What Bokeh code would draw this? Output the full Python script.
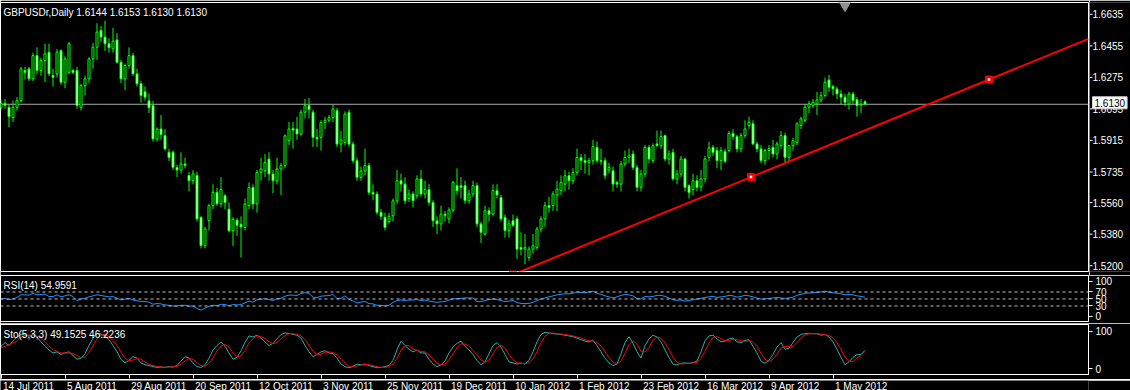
import numpy as np
from bokeh.plotting import figure
from bokeh.layouts import column, row
from bokeh.models import (Range1d, FixedTicker, Label, Span, ColumnDataSource)
from bokeh.core.properties import value
from bokeh.embed import file_html
from bokeh.resources import INLINE

# ---------------- data ----------------
HEADER = "GBPUSDr,Daily  1.6144 1.6153 1.6130 1.6130"
RSI_TITLE = "RSI(14) 54.9591"
STO_TITLE = "Sto(5,3,3) 49.1525 46.2236"

OPEN = [
    1.6110, 1.6135, 1.6113, 1.6055, 1.6113, 1.6150, 1.6320, 1.6329, 1.6273, 1.6404,
    1.6320, 1.6376, 1.6423, 1.6292, 1.6301, 1.6432, 1.6254, 1.6310, 1.6320, 1.6320,
    1.6113, 1.6235, 1.6273, 1.6385, 1.6451, 1.6545, 1.6508, 1.6470, 1.6442, 1.6492,
    1.6367, 1.6273, 1.6348, 1.6404, 1.6301, 1.6245, 1.6200, 1.6150, 1.6122, 1.5935,
    1.5991, 1.5954, 1.5860, 1.5860, 1.5775, 1.5760, 1.5794, 1.5730, 1.5700, 1.5730,
    1.5494, 1.5335, 1.5475, 1.5560, 1.5635, 1.5570, 1.5615, 1.5540, 1.5418, 1.5478,
    1.5455, 1.5437, 1.5560, 1.5662, 1.5569, 1.5747, 1.5756, 1.5822, 1.5738, 1.5700,
    1.5766, 1.5785, 1.5925, 1.5994, 1.5991, 1.5963, 1.6085, 1.6122, 1.6085, 1.5944,
    1.5944, 1.6028, 1.6040, 1.6055, 1.6094, 1.5906, 1.5916, 1.6085, 1.5906, 1.5812,
    1.5719, 1.5755, 1.5785, 1.5634, 1.5625, 1.5522, 1.5494, 1.5470, 1.5503, 1.5587,
    1.5700, 1.5681, 1.5600, 1.5625, 1.5615, 1.5710, 1.5625, 1.5650, 1.5578, 1.5475,
    1.5457, 1.5512, 1.5485, 1.5535, 1.5672, 1.5672, 1.5672, 1.5588, 1.5625, 1.5672,
    1.5457, 1.5400, 1.5531, 1.5512, 1.5644, 1.5606, 1.5494, 1.5419, 1.5475, 1.5485,
    1.5325, 1.5315, 1.5268, 1.5315, 1.5325, 1.5428, 1.5485, 1.5560, 1.5560, 1.5620,
    1.5644, 1.5681, 1.5728, 1.5700, 1.5747, 1.5831, 1.5813, 1.5803, 1.5813, 1.5888,
    1.5813, 1.5813, 1.5760, 1.5756, 1.5690, 1.5681, 1.5794, 1.5831, 1.5850, 1.5775,
    1.5663, 1.5738, 1.5888, 1.5813, 1.5907, 1.5897, 1.5954, 1.5822, 1.5860, 1.5710,
    1.5738, 1.5822, 1.5672, 1.5650, 1.5700, 1.5666, 1.5710, 1.5832, 1.5888, 1.5870,
    1.5813, 1.5865, 1.5870, 1.5966, 1.5948, 1.5879, 1.5954, 1.6010, 1.6020, 1.5907,
    1.5879, 1.5813, 1.5870, 1.5888, 1.5850, 1.5897, 1.5954, 1.5832, 1.5897, 1.5916,
    1.6010, 1.6040, 1.6113, 1.6122, 1.6132, 1.6154, 1.6179, 1.6267, 1.6230, 1.6216,
    1.6188, 1.6170, 1.6132, 1.6188, 1.6155, 1.6125, 1.6144,
]
HIGH = [
    1.6155, 1.6160, 1.6130, 1.6150, 1.6170, 1.6340, 1.6340, 1.6340, 1.6420, 1.6450,
    1.6390, 1.6470, 1.6470, 1.6330, 1.6440, 1.6440, 1.6400, 1.6480, 1.6330, 1.6340,
    1.6245, 1.6290, 1.6395, 1.6475, 1.6586, 1.6570, 1.6600, 1.6500, 1.6560, 1.6530,
    1.6380, 1.6360, 1.6450, 1.6420, 1.6330, 1.6260, 1.6230, 1.6190, 1.6150, 1.6000,
    1.6070, 1.5990, 1.5880, 1.5870, 1.5790, 1.5860, 1.5830, 1.5750, 1.5760, 1.5750,
    1.5500, 1.5440, 1.5570, 1.5680, 1.5660, 1.5720, 1.5625, 1.5578, 1.5494, 1.5490,
    1.5500, 1.5600, 1.5690, 1.5680, 1.5760, 1.5830, 1.5850, 1.5860, 1.5760, 1.5830,
    1.5800, 1.5960, 1.6030, 1.6030, 1.6060, 1.6100, 1.6160, 1.6165, 1.6100, 1.5990,
    1.6040, 1.6060, 1.6070, 1.6130, 1.6110, 1.5980, 1.6090, 1.6100, 1.5920, 1.5830,
    1.5780, 1.5880, 1.5800, 1.5680, 1.5640, 1.5540, 1.5520, 1.5520, 1.5600, 1.5760,
    1.5740, 1.5720, 1.5650, 1.5640, 1.5730, 1.5760, 1.5700, 1.5680, 1.5590, 1.5500,
    1.5560, 1.5530, 1.5550, 1.5700, 1.5770, 1.5720, 1.5700, 1.5650, 1.5700, 1.5690,
    1.5470, 1.5560, 1.5550, 1.5680, 1.5680, 1.5620, 1.5510, 1.5480, 1.5510, 1.5500,
    1.5410, 1.5400, 1.5330, 1.5400, 1.5440, 1.5500, 1.5580, 1.5610, 1.5640, 1.5700,
    1.5730, 1.5760, 1.5750, 1.5770, 1.5880, 1.5850, 1.5850, 1.5830, 1.5930, 1.5920,
    1.5880, 1.5830, 1.5800, 1.5780, 1.5700, 1.5810, 1.5870, 1.5880, 1.5870, 1.5790,
    1.5760, 1.5900, 1.5900, 1.5910, 1.5982, 1.5982, 1.5960, 1.5870, 1.5880, 1.5760,
    1.5840, 1.5830, 1.5680, 1.5740, 1.5730, 1.5760, 1.5840, 1.5920, 1.5900, 1.5890,
    1.5890, 1.5880, 1.5980, 1.5990, 1.5960, 1.5970, 1.6040, 1.6060, 1.6040, 1.5920,
    1.5900, 1.5880, 1.5900, 1.5930, 1.5920, 1.5980, 1.5970, 1.5900, 1.5940, 1.6030,
    1.6060, 1.6130, 1.6150, 1.6160, 1.6200, 1.6200, 1.6280, 1.6295, 1.6240, 1.6230,
    1.6210, 1.6190, 1.6200, 1.6200, 1.6170, 1.6160, 1.6153,
]
LOW = [
    1.6100, 1.6105, 1.6000, 1.6030, 1.6095, 1.6140, 1.6270, 1.6260, 1.6260, 1.6300,
    1.6290, 1.6255, 1.6290, 1.6230, 1.6280, 1.6240, 1.6220, 1.6300, 1.6300, 1.6105,
    1.6095, 1.6180, 1.6250, 1.6330, 1.6380, 1.6480, 1.6430, 1.6420, 1.6420, 1.6360,
    1.6250, 1.6210, 1.6330, 1.6290, 1.6230, 1.6140, 1.6150, 1.6080, 1.5920, 1.5920,
    1.5930, 1.5870, 1.5810, 1.5760, 1.5720, 1.5740, 1.5770, 1.5640, 1.5680, 1.5470,
    1.5320, 1.5320, 1.5420, 1.5540, 1.5560, 1.5550, 1.5540, 1.5410, 1.5334, 1.5390,
    1.5268, 1.5420, 1.5540, 1.5540, 1.5520, 1.5700, 1.5720, 1.5700, 1.5630, 1.5680,
    1.5620, 1.5770, 1.5900, 1.5880, 1.5930, 1.5950, 1.6050, 1.6050, 1.5890, 1.5890,
    1.5870, 1.5990, 1.6030, 1.6030, 1.5890, 1.5860, 1.5900, 1.5890, 1.5800, 1.5700,
    1.5700, 1.5730, 1.5620, 1.5590, 1.5510, 1.5480, 1.5420, 1.5460, 1.5470, 1.5570,
    1.5640, 1.5570, 1.5580, 1.5550, 1.5600, 1.5610, 1.5600, 1.5560, 1.5440, 1.5400,
    1.5420, 1.5470, 1.5460, 1.5520, 1.5620, 1.5600, 1.5570, 1.5570, 1.5610, 1.5440,
    1.5350, 1.5390, 1.5470, 1.5500, 1.5600, 1.5470, 1.5380, 1.5380, 1.5440, 1.5260,
    1.5280, 1.5230, 1.5250, 1.5290, 1.5310, 1.5410, 1.5440, 1.5520, 1.5530, 1.5530,
    1.5620, 1.5640, 1.5650, 1.5680, 1.5730, 1.5760, 1.5740, 1.5730, 1.5790, 1.5800,
    1.5790, 1.5710, 1.5740, 1.5640, 1.5660, 1.5640, 1.5780, 1.5800, 1.5760, 1.5640,
    1.5640, 1.5720, 1.5800, 1.5800, 1.5890, 1.5880, 1.5810, 1.5790, 1.5700, 1.5680,
    1.5720, 1.5640, 1.5600, 1.5620, 1.5640, 1.5640, 1.5690, 1.5810, 1.5840, 1.5770,
    1.5760, 1.5800, 1.5860, 1.5930, 1.5860, 1.5860, 1.5940, 1.5990, 1.5900, 1.5860,
    1.5800, 1.5790, 1.5820, 1.5830, 1.5820, 1.5880, 1.5800, 1.5810, 1.5870, 1.5900,
    1.5990, 1.6030, 1.6080, 1.6110, 1.6070, 1.6140, 1.6170, 1.6200, 1.6180, 1.6160,
    1.6130, 1.6120, 1.6100, 1.6130, 1.6060, 1.6080, 1.6130,
]
CLOSE = [
    1.6135, 1.6125, 1.6060, 1.6113, 1.6150, 1.6329, 1.6310, 1.6273, 1.6404, 1.6320,
    1.6376, 1.6414, 1.6301, 1.6282, 1.6423, 1.6254, 1.6385, 1.6470, 1.6310, 1.6123,
    1.6235, 1.6273, 1.6385, 1.6451, 1.6536, 1.6508, 1.6470, 1.6448, 1.6485, 1.6367,
    1.6273, 1.6348, 1.6404, 1.6301, 1.6245, 1.6179, 1.6170, 1.6110, 1.5935, 1.5991,
    1.5960, 1.5879, 1.5830, 1.5775, 1.5760, 1.5794, 1.5785, 1.5700, 1.5738, 1.5485,
    1.5335, 1.5428, 1.5560, 1.5635, 1.5570, 1.5650, 1.5578, 1.5418, 1.5484, 1.5450,
    1.5440, 1.5569, 1.5662, 1.5569, 1.5747, 1.5766, 1.5803, 1.5738, 1.5700, 1.5766,
    1.5785, 1.5953, 1.5991, 1.5985, 1.5963, 1.6085, 1.6122, 1.6100, 1.5944, 1.5935,
    1.6028, 1.6040, 1.6055, 1.6103, 1.5906, 1.5929, 1.6075, 1.5906, 1.5812, 1.5719,
    1.5755, 1.5785, 1.5634, 1.5625, 1.5522, 1.5500, 1.5437, 1.5500, 1.5587, 1.5700,
    1.5681, 1.5587, 1.5625, 1.5587, 1.5710, 1.5625, 1.5650, 1.5578, 1.5475, 1.5457,
    1.5512, 1.5503, 1.5535, 1.5691, 1.5644, 1.5663, 1.5588, 1.5625, 1.5672, 1.5457,
    1.5410, 1.5531, 1.5512, 1.5644, 1.5620, 1.5485, 1.5419, 1.5457, 1.5450, 1.5315,
    1.5315, 1.5325, 1.5315, 1.5334, 1.5428, 1.5485, 1.5560, 1.5550, 1.5625, 1.5653,
    1.5691, 1.5728, 1.5700, 1.5747, 1.5831, 1.5813, 1.5803, 1.5813, 1.5892, 1.5813,
    1.5810, 1.5728, 1.5775, 1.5681, 1.5681, 1.5794, 1.5831, 1.5840, 1.5775, 1.5663,
    1.5738, 1.5888, 1.5822, 1.5897, 1.5897, 1.5948, 1.5822, 1.5850, 1.5710, 1.5738,
    1.5822, 1.5663, 1.5634, 1.5700, 1.5663, 1.5710, 1.5822, 1.5884, 1.5860, 1.5813,
    1.5870, 1.5810, 1.5966, 1.5948, 1.5879, 1.5954, 1.5991, 1.6029, 1.5907, 1.5879,
    1.5813, 1.5870, 1.5880, 1.5850, 1.5907, 1.5954, 1.5832, 1.5897, 1.5925, 1.6020,
    1.6048, 1.6113, 1.6132, 1.6141, 1.6154, 1.6179, 1.6254, 1.6226, 1.6217, 1.6188,
    1.6170, 1.6141, 1.6188, 1.6151, 1.6122, 1.6130, 1.6130,
]
RSI = [
    50, 51.5, 48, 50, 54, 62, 62, 61, 66, 62,
    63, 64, 57, 57, 62, 56, 59, 62, 57, 45,
    50, 52, 56, 59, 62, 60, 58, 56, 57, 52,
    47, 50, 52, 47, 45, 43, 43, 41, 35, 37,
    36, 33, 32, 30, 30, 32, 32, 29, 30, 23,
    18, 24, 29, 32, 31, 35, 34, 31, 34, 33,
    34, 39, 44, 41, 48, 49, 51, 48, 46, 51,
    52, 58, 61, 61, 60, 66, 68, 66, 55, 54,
    58, 59, 60, 63, 51, 52, 59, 49, 44, 39,
    41, 43, 37, 36, 32, 32, 30, 32, 40, 45.6,
    47, 45.6, 47, 47, 48.5, 45.6, 47, 44, 42, 40.4,
    42, 42.6, 47, 50, 51.5, 51.5, 53, 53, 53, 42.6,
    42.6, 45.6, 48.5, 50, 48.5, 45.6, 42.6, 44, 45.6, 39.6,
    37.4, 36.7, 37.4, 40.4, 45.6, 50, 53, 56, 58.9, 61.8,
    63.3, 64.8, 64.8, 66.3, 70, 68.5, 67.8, 70, 72.2, 66.3,
    63.3, 58.9, 56, 53, 56, 60.4, 62.6, 61.8, 58.9, 51.5,
    50, 57.4, 56, 57.4, 60.4, 60.4, 57.4, 53, 47.8, 46.3,
    47, 44, 45.6, 47.8, 50, 51.5, 54.4, 56, 57.4, 54.4,
    56, 57.4, 60.4, 58.9, 55.2, 57.4, 60.4, 58.9, 56, 53,
    50, 50, 51.5, 53, 54.4, 53, 51.5, 53, 55.2, 60.4,
    63.3, 66.3, 67, 67.8, 68.5, 70, 72.2, 69.2, 67.8, 66.3,
    64.8, 61.8, 63.3, 61.8, 58.9, 57.4, 54.96,
]
STO_MAIN = [
    60, 70, 62, 75, 85, 92, 90, 88, 92, 85,
    72, 60, 50, 42, 45, 38, 42, 45, 35, 25,
    28, 40, 62, 82, 95, 93, 88, 78, 62, 45,
    25, 15, 22, 32, 28, 15, 10, 8, 5, 3,
    4, 3, 5, 4, 8, 20, 32, 28, 15, 5,
    3, 10, 28, 50, 62, 72, 60, 42, 25, 30,
    48, 70, 88, 85, 90, 82, 72, 62, 68, 80,
    92, 96, 95, 92, 90, 82, 62, 45, 32, 38,
    45, 48, 42, 40, 28, 12, 5, 2, 6, 12,
    10, 12, 8, 5, 2, 3, 5, 8, 22, 50,
    74, 62, 52, 45, 50, 42, 42, 25, 12, 5,
    10, 20, 42, 58, 68, 74, 60, 50, 38, 22,
    10, 18, 40, 62, 70, 58, 38, 18, 15, 12,
    15, 12, 22, 45, 72, 92, 98, 96, 94, 93,
    92, 90, 88, 86, 82, 78, 74, 72, 76, 62,
    45, 28, 15, 8, 12, 40, 70, 86, 68, 45,
    28, 62, 80, 90, 85, 72, 50, 30, 12, 10,
    14, 15, 14, 16, 20, 45, 75, 88, 90, 80,
    72, 74, 80, 82, 72, 70, 76, 78, 60, 42,
    20, 14, 22, 38, 58, 70, 52, 55, 70, 85,
    92, 94, 95, 94, 94, 90, 92, 85, 72, 52,
    30, 10, 18, 30, 38, 38, 49.15,
]
STO_SIGNAL = [
    55, 60, 64, 69, 74, 84, 89, 90, 90, 88,
    83, 72, 61, 51, 46, 42, 42, 42, 41, 35,
    29, 31, 43, 61, 80, 90, 92, 86, 76, 62,
    44, 28, 21, 23, 27, 25, 18, 11, 8, 5,
    4, 3, 4, 4, 6, 11, 20, 27, 25, 16,
    8, 6, 14, 29, 47, 61, 65, 58, 42, 32,
    34, 49, 69, 81, 88, 86, 81, 72, 67, 70,
    80, 89, 94, 94, 92, 88, 78, 63, 46, 38,
    38, 44, 45, 43, 37, 27, 15, 6, 4, 7,
    9, 11, 10, 8, 5, 3, 3, 5, 12, 27,
    49, 62, 62, 53, 49, 46, 45, 36, 26, 14,
    9, 12, 24, 40, 56, 67, 66, 61, 49, 37,
    23, 17, 23, 40, 57, 63, 55, 38, 24, 15,
    14, 13, 16, 26, 46, 70, 87, 95, 96, 94,
    93, 92, 90, 88, 85, 82, 78, 75, 74, 70,
    61, 45, 29, 17, 12, 20, 41, 65, 75, 66,
    47, 45, 57, 77, 85, 82, 69, 51, 31, 17,
    12, 13, 14, 15, 16, 27, 47, 69, 84, 86,
    81, 75, 75, 79, 78, 75, 73, 75, 71, 60,
    41, 25, 19, 25, 39, 55, 60, 59, 59, 70,
    82, 90, 94, 94, 94, 93, 92, 89, 83, 70,
    51, 31, 19, 19, 29, 35, 46.22,
]
DATE_TICKS = [0, 16, 32, 48, 64, 80, 96, 112, 128, 144, 160, 176, 192, 208]
DATE_LABELS = ["14 Jul 2011", "5 Aug 2011", "29 Aug 2011", "20 Sep 2011", "12 Oct 2011",
               "3 Nov 2011", "25 Nov 2011", "19 Dec 2011", "10 Jan 2012", "1 Feb 2012",
               "23 Feb 2012", "16 Mar 2012", "9 Apr 2012", "1 May 2012"]
PRICE_TICKS = [1.6635, 1.6455, 1.6275, 1.6095, 1.5915, 1.5735, 1.5560, 1.5380, 1.5200]
RSI_TICKS = [0, 30, 50, 70, 100]
RSI_LEVELS = [30, 50, 70]
STO_TICKS = [0, 100]
TREND_X = [128, 247]            # trend line anchor bars
TREND_Y = [1.5172, 1.6269]      # trend line anchor prices
SHIFT_BAR = 211                 # chart-shift marker

for arr in (OPEN, HIGH, LOW, CLOSE, RSI, STO_MAIN, STO_SIGNAL):
    assert len(arr) == len(CLOSE), len(arr)

# ---------------- styling / layout ----------------
FONT = "Liberation Sans"
FS = "10px"
XR = Range1d(-0.125, 271.875)
MAIN_Y = (1.51894, 1.67025)
RSI_Y = (-14.3, 117.1)
STO_Y = (-16.2, 118.9)


def panel(width, height, yr, top, bottom, ticks, right=42, xaxis=False, outline="white", xr=XR):
    f = figure(width=width, height=height, x_range=xr, y_range=Range1d(*yr),
               output_backend="svg", toolbar_location=None,
               background_fill_color="black", border_fill_color="black",
               outline_line_color=outline, outline_line_width=1,
               min_border_left=0, min_border_right=right,
               min_border_top=top, min_border_bottom=bottom,
               x_axis_location="below" if xaxis else None,
               y_axis_location="right" if ticks else None)
    f.grid.visible = False
    if ticks:
        ax = f.yaxis[0]
        ax.ticker = FixedTicker(ticks=ticks)
        ax.axis_line_color = None
        ax.major_tick_line_color = "white"
        ax.major_tick_out = 4
        ax.major_tick_in = 0
        ax.minor_tick_line_color = None
        ax.major_label_text_color = "white"
        ax.major_label_text_font = FONT
        ax.major_label_text_font_size = FS
        ax.major_label_standoff = 3
    return f


# ---- main price panel ----
n = len(CLOSE)
idx = np.arange(n)
o = np.array(OPEN); h = np.array(HIGH); l = np.array(LOW); c = np.array(CLOSE)
src = ColumnDataSource(dict(x=idx, h=h, l=l, top=np.maximum(o, c), bot=np.minimum(o, c),
                            fill=np.where(c >= o, "black", "white").tolist()))

p1 = panel(1089, 275, MAIN_Y, 2, 4, None, right=1)
p1.add_layout(Span(location=CLOSE[-1], dimension="width", line_color="#a8a8a8",
                   line_width=1, level="underlay"))
p1.segment(x0="x", y0="l", x1="x", y1="h", source=src, line_color="#00ff00", line_width=1)
p1.vbar(x="x", width=0.5, top="top", bottom="bot", source=src,
        fill_color="fill", line_color="#00ff00", line_width=1)

slope = (TREND_Y[1] - TREND_Y[0]) / (TREND_X[1] - TREND_X[0])
x_end = XR.end
y_end = TREND_Y[0] + slope * (x_end - TREND_X[0])
p1.line([TREND_X[0], x_end], [TREND_Y[0], y_end], line_color="#ff0000", line_width=2)
mx = [TREND_X[0], (TREND_X[0] + TREND_X[1]) / 2, TREND_X[1]]
my = [TREND_Y[0], (TREND_Y[0] + TREND_Y[1]) / 2, TREND_Y[1]]
p1.scatter(mx, my, marker="square", size=7, fill_color="#ff0000", line_color="#ff0000")
p1.scatter(mx, my, marker="square", size=2.5, fill_color="white", line_color=None)
p1.scatter([SHIFT_BAR], [MAIN_Y[1]], marker="inverted_triangle", size=16,
           fill_color="#909090", line_color="#909090")
p1.add_layout(Label(x=XR.start, y=MAIN_Y[1], x_offset=3, y_offset=-4, text=HEADER,
                    text_baseline="top", text_color="white", text_font=FONT, text_font_size=FS))

# ---- price scale strip (same y scale as the price panel) ----
unit = (MAIN_Y[1] - MAIN_Y[0]) / 269.0
scale_y = (MAIN_Y[1] - 273 * unit, MAIN_Y[1])
pax = panel(41, 275, scale_y, 2, 0, None, right=0, outline=None, xr=Range1d(0, 41))
pax.segment(x0=[0] * len(PRICE_TICKS), y0=PRICE_TICKS, x1=[3] * len(PRICE_TICKS), y1=PRICE_TICKS,
            line_color="white", line_width=1)
pax.text(x=[3] * len(PRICE_TICKS), y=PRICE_TICKS, text=["%.4f" % t for t in PRICE_TICKS],
         text_baseline="middle", text_align="left", text_color="white",
         text_font=value(FONT), text_font_size=value(FS))
pax.add_layout(Label(x=3, y=CLOSE[-1], text="%.4f" % CLOSE[-1], text_baseline="middle",
                     text_align="left", text_color="black", text_font=FONT, text_font_size=FS,
                     background_fill_color="white", border_line_color="#d0d0d0", padding=2))

# ---- RSI panel ----
p2 = panel(1130, 48, RSI_Y, 0, 2, RSI_TICKS)
for lv in RSI_LEVELS:
    p2.add_layout(Span(location=lv, dimension="width", line_color="#c0c0c0",
                       line_width=1, line_dash="3 3"))
p2.line(idx, RSI, line_color="#1e90ff", line_width=1)
p2.add_layout(Label(x=XR.start, y=RSI_Y[1], x_offset=3, y_offset=-4, text=RSI_TITLE,
                    text_baseline="top", text_color="white", text_font=FONT, text_font_size=FS))

# ---- Stochastic panel ----
p3 = panel(1130, 56, STO_Y, 1, 5, STO_TICKS, xaxis=True)
p3.line(idx, STO_MAIN, line_color="#20b2aa", line_width=1)
p3.line(idx, STO_SIGNAL, line_color="#ff0000", line_width=1)
p3.add_layout(Label(x=XR.start, y=STO_Y[1], x_offset=3, y_offset=-4, text=STO_TITLE,
                    text_baseline="top", text_color="white", text_font=FONT, text_font_size=FS))
xa = p3.xaxis[0]
xa.ticker = FixedTicker(ticks=DATE_TICKS)
xa.major_label_overrides = {t: "" for t in DATE_TICKS}
xa.major_label_text_font_size = "1px"
xa.major_label_standoff = 0
xa.axis_line_color = "white"
xa.major_tick_line_color = "white"
xa.major_tick_out = 4
xa.major_tick_in = 0
xa.minor_tick_line_color = None

# ---- date labels strip ----
p4 = panel(1130, 11, (0, 1), 0, 0, None, outline=None)
p4.text(x=DATE_TICKS, y=[1] * len(DATE_TICKS), text=DATE_LABELS, x_offset=2,
        text_baseline="top", text_align="left", text_color="white",
        text_font=value(FONT), text_font_size=value(FS))

layout = column(row(p1, pax, spacing=0), p2, p3, p4, spacing=0)
open("out.html", "w").write(file_html(layout, INLINE, "GBPUSDr,Daily"))
